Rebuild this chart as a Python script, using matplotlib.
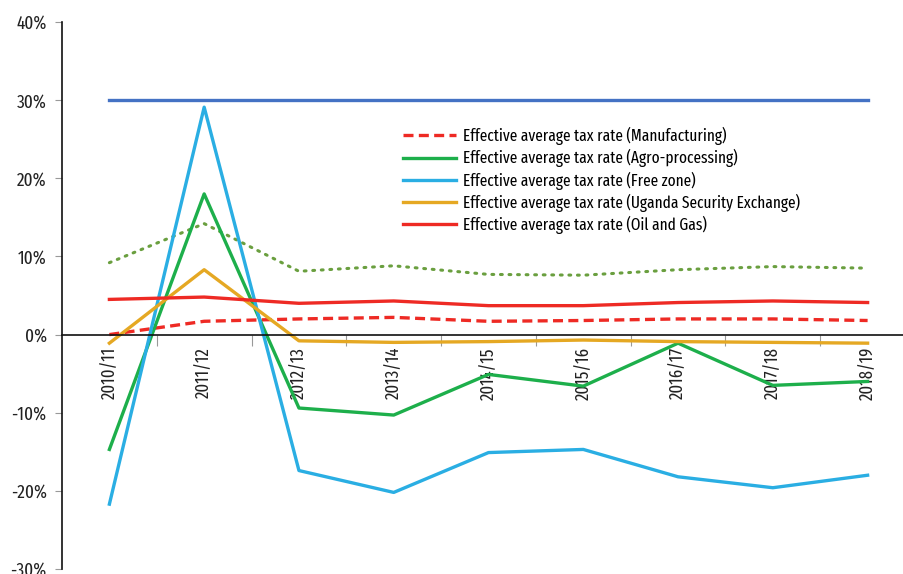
import matplotlib
matplotlib.use("Agg")
import matplotlib.pyplot as plt
import matplotlib.ticker as ticker
from matplotlib import font_manager

years = ["2010/11", "2011/12", "2012/13", "2013/14", "2014/15",
         "2015/16", "2016/17", "2017/18", "2018/19"]

statutory = [30, 30, 30, 30, 30, 30, 30, 30, 30]
overall = [9.2, 14.2, 8.1, 8.8, 7.7, 7.6, 8.3, 8.7, 8.5]
manufacturing = [0.0, 1.7, 2.0, 2.2, 1.7, 1.8, 2.0, 2.0, 1.8]
agro = [-14.7, 18.0, -9.4, -10.3, -5.1, -6.6, -1.1, -6.5, -6.0]
free_zone = [-21.7, 29.1, -17.4, -20.2, -15.1, -14.7, -18.2, -19.6, -18.0]
use = [-1.1, 8.3, -0.8, -1.0, -0.9, -0.7, -0.9, -1.0, -1.1]
oil_gas = [4.5, 4.8, 4.0, 4.3, 3.7, 3.7, 4.1, 4.3, 4.1]

# look for a narrow face (the original uses a condensed gothic)
skip = ('Bold', 'Light', 'Thin', 'Black', 'Medium', 'Italic', 'Oblique', 'Heavy')
faces = [f for f in font_manager.fontManager.ttflist
         if not any(s in f.fname for s in skip)]
picked = None
for key in ('ExtraCondensed', 'Narrow', 'Condensed'):
    cands = sorted(f.fname for f in faces if key in f.fname and 'Semi' not in f.fname)
    if cands:
        picked = cands[0]
        break
if picked:
    font_manager.fontManager.addfont(picked)
    name = font_manager.FontProperties(fname=picked).get_name()
    plt.rcParams['font.family'] = [name, 'DejaVu Sans']
    plt.rcParams['font.stretch'] = 'extra-condensed'

fig = plt.figure(figsize=(9.04, 5.74), dpi=100)
ax = fig.add_axes([62 / 904, 5 / 574, 853 / 904, 547 / 574])

x = list(range(len(years)))
ax.plot(x, statutory, color='#4472C4', lw=2.4)
ax.plot(x, overall, color='#6A9F3F', lw=2.2, ls=(0, (0.6, 2.2)), dash_capstyle='round')
ax.plot(x, manufacturing, color='#EE2A24', lw=2.4, ls=(0, (3, 1.6)),
        label='Effective average tax rate (Manufacturing)')
ax.plot(x, agro, color='#1DAF4B', lw=2.4,
        label='Effective average tax rate (Agro-processing)')
ax.plot(x, free_zone, color='#2AAEE3', lw=2.4,
        label='Effective average tax rate (Free zone)')
ax.plot(x, use, color='#E5A823', lw=2.4,
        label='Effective average tax rate (Uganda Security Exchange)')
ax.plot(x, oil_gas, color='#EE2A24', lw=2.4,
        label='Effective average tax rate (Oil and Gas)')

ax.set_xlim(-0.5, 8.5)
ax.set_ylim(-30, 40)
ax.yaxis.set_major_locator(ticker.MultipleLocator(10))
ax.yaxis.set_major_formatter(ticker.FuncFormatter(lambda v, p: '%d%%' % v))

ax.set_xticks(x)
ax.set_xticklabels(years)
ax.set_xticks([i + 0.5 for i in x[:-1]], minor=True)
ax.tick_params(axis='x', which='major', length=0, pad=9, labelsize=13,
               labelcolor='#222222', labelrotation=90)
ax.tick_params(axis='x', which='minor', length=8, width=0.8, color='#999999')
ax.tick_params(axis='y', length=5, width=0.8, color='#999999', labelsize=13.5,
               labelcolor='#222222', pad=6)

ax.spines['top'].set_visible(False)
ax.spines['right'].set_visible(False)
ax.spines['bottom'].set_position(('data', 0))
ax.spines['bottom'].set_color('#111111')
ax.spines['left'].set_color('#111111')
ax.spines['bottom'].set_linewidth(1.2)
ax.spines['left'].set_linewidth(1.2)

ax.legend(loc='upper left', bbox_to_anchor=(0.392, 0.82), frameon=False,
          fontsize=12, handlelength=3.2, handletextpad=0.4, labelspacing=0.24,
          borderaxespad=0)

fig.savefig('out.png', dpi=100)
